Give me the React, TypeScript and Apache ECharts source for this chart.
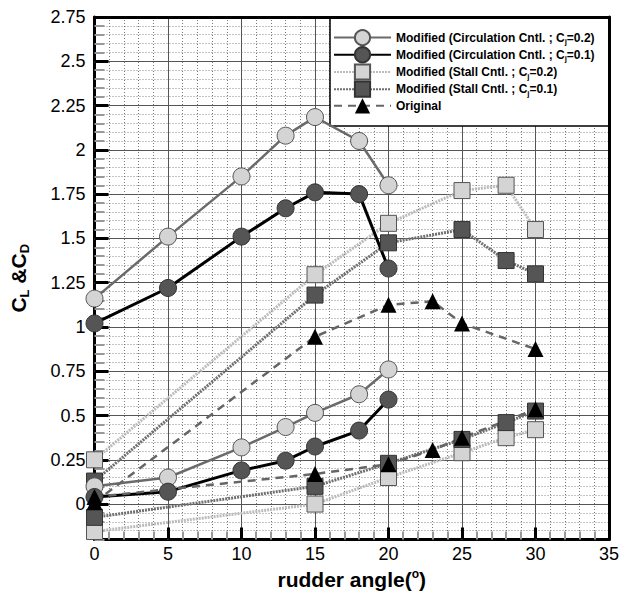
import React, { useEffect, useRef } from 'react';
import * as echarts from 'echarts';

// ---- data ----
const circAngles = [0, 5, 10, 13, 15, 18, 20];
const circCL02 = [1.16, 1.51, 1.85, 2.08, 2.185, 2.05, 1.80];
const circCL01 = [1.02, 1.22, 1.51, 1.67, 1.76, 1.75, 1.33];
const circCD02 = [0.10, 0.15, 0.32, 0.435, 0.515, 0.62, 0.76];
const circCD01 = [0.04, 0.07, 0.19, 0.245, 0.325, 0.415, 0.59];

const stallAngles = [0, 15, 20, 25, 28, 30];
const stallCL02 = [0.25, 1.295, 1.585, 1.77, 1.80, 1.55];
const stallCL01 = [0.13, 1.18, 1.475, 1.55, 1.375, 1.30];
const stallCD02 = [-0.155, 0.0, 0.15, 0.29, 0.375, 0.42];
const stallCD01 = [-0.075, 0.10, 0.23, 0.365, 0.46, 0.525];

const origAngles = [0, 15, 20, 23, 25, 30];
const origCL = [0.01, 0.945, 1.125, 1.145, 1.02, 0.875];
const origCD = [0.04, 0.17, 0.225, 0.305, 0.375, 0.535];

const yMajorTicks = [0, 0.25, 0.5, 0.75, 1, 1.25, 1.5, 1.75, 2, 2.25, 2.5, 2.75];

const seriesNames = [
  'Modified (Circulation Cntl. ; Cj=0.2)',
  'Modified (Circulation Cntl. ; Cj=0.1)',
  'Modified (Stall Cntl. ; Cj=0.2)',
  'Modified (Stall Cntl. ; Cj=0.1)',
  'Original',
];

const FONT = "'Liberation Sans', Arial, Helvetica, sans-serif";

function pairs(xs: number[], ys: number[]) {
  return xs.map((x, i) => [x, ys[i]]);
}

export default function App() {
  const ref = useRef<HTMLDivElement>(null);

  useEffect(() => {
    const chart = echarts.init(ref.current!, null, { renderer: 'svg' });

    const styles: any[] = [
      {
        symbol: 'circle', symbolSize: 17,
        lineStyle: { color: '#6a6a6a', width: 2.5 },
        itemStyle: { color: '#d4d4d4', borderColor: '#555', borderWidth: 1 },
      },
      {
        symbol: 'circle', symbolSize: 17,
        lineStyle: { color: '#000', width: 3 },
        itemStyle: { color: '#555', borderColor: '#333', borderWidth: 1 },
      },
      {
        symbol: 'rect', symbolSize: 16,
        lineStyle: { color: '#bcbcbc', width: 3, type: [2, 1] },
        itemStyle: { color: '#d4d4d4', borderColor: '#555', borderWidth: 1 },
      },
      {
        symbol: 'rect', symbolSize: 16,
        lineStyle: { color: '#707070', width: 3, type: [2, 1] },
        itemStyle: { color: '#555', borderColor: '#333', borderWidth: 1 },
      },
      {
        symbol: 'triangle', symbolSize: 16,
        lineStyle: { color: '#666', width: 2.5, type: [8, 6] },
        itemStyle: { color: '#000', borderColor: '#000', borderWidth: 0 },
      },
    ];

    const mk = (idx: number, xs: number[], ys: number[]) => ({
      type: 'line',
      name: seriesNames[idx],
      data: pairs(xs, ys),
      showSymbol: true,
      xAxisIndex: 0,
      yAxisIndex: 0,
      ...styles[idx],
    });

    const series = [
      mk(2, stallAngles, stallCL02),
      mk(2, stallAngles, stallCD02),
      mk(3, stallAngles, stallCL01),
      mk(3, stallAngles, stallCD01),
      mk(0, circAngles, circCL02),
      mk(0, circAngles, circCD02),
      mk(1, circAngles, circCL01),
      mk(1, circAngles, circCD01),
      mk(4, origAngles, origCL),
      mk(4, origAngles, origCD),
    ];

    const option: any = {
      animation: false,
      backgroundColor: '#fff',
      textStyle: { fontFamily: FONT },
      grid: { left: 93, right: 21, top: 17, bottom: 54, containLabel: false },
      legend: {
        data: seriesNames,
        orient: 'vertical',
        left: 330,
        top: 17,
        padding: [12, 0, 0, 3],
        itemWidth: 57,
        itemHeight: 19,
        itemGap: 0,
        z: 6,
        textStyle: { fontFamily: FONT, fontSize: 12, fontWeight: 'bold', color: '#000', lineHeight: 16,
          rich: { s: { fontSize: 8, fontWeight: 'bold', fontFamily: FONT, lineHeight: 8, verticalAlign: 'bottom' } } },
        formatter: (n: string) => n.replace('Cj', 'C{s|j}'),
        selectedMode: false,
      },
      graphic: [
        {
          type: 'rect', z: 3,
          shape: { x: 330, y: 17, width: 279, height: 109 },
          style: { fill: '#fff', stroke: '#000', lineWidth: 1.5 },
        },
      ],
      xAxis: [
        {
          type: 'value', min: 0, max: 35, interval: 1, position: 'bottom',
          axisLine: { show: true, onZero: false, lineStyle: { color: '#000', width: 3 } },
          axisTick: { show: true, inside: true, length: 8, lineStyle: { color: '#999', width: 2 } },
          axisLabel: { show: false },
          splitLine: { show: true, lineStyle: { color: '#777', width: 1, type: [1, 2] } },
          name: '{a|rudder angle(}{p|o}{a|)}',
          nameLocation: 'middle',
          nameGap: 28,
          nameTextStyle: {
            rich: {
              a: { fontFamily: FONT, fontSize: 21, fontWeight: 'bold', color: '#000', lineHeight: 24 },
              p: { fontFamily: FONT, fontSize: 12, fontWeight: 'bold', color: '#000', lineHeight: 12, verticalAlign: 'top' },
            },
          },
        },
        {
          type: 'value', min: 0, max: 35, interval: 5, position: 'bottom',
          axisLine: { show: false, onZero: false },
          axisTick: { show: true, inside: true, length: 12, lineStyle: { color: '#000', width: 3 } },
          axisLabel: { show: true, fontFamily: FONT, fontSize: 18, color: '#000', margin: 5 },
          splitLine: { show: true, lineStyle: { color: '#555', width: 1 } },
        },
        {
          type: 'value', min: 0, max: 35, position: 'top', z: 5,
          axisLine: { show: true, onZero: false, lineStyle: { color: '#000', width: 3 } },
          axisTick: { show: false }, axisLabel: { show: false }, splitLine: { show: false },
        },
      ],
      yAxis: [
        {
          type: 'value', min: -0.2, max: 2.75, interval: 0.05, position: 'left',
          axisLine: { show: true, onZero: false, lineStyle: { color: '#000', width: 3 } },
          axisTick: { show: true, inside: true, length: 10, lineStyle: { color: '#999', width: 2 } },
          axisLabel: {
            show: true, fontFamily: FONT, fontSize: 18, color: '#000', margin: 9,
            formatter: (v: number) => {
              const q = v / 0.25;
              if (Math.abs(q - Math.round(q)) > 1e-6 || v < -1e-9) return '';
              return String(Math.round(v * 100) / 100);
            },
          },
          splitLine: { show: true, lineStyle: { color: '#888', width: 1, type: [1, 2] } },
          name: '{a|C}{s|L}{a| &C}{s|D}',
          nameLocation: 'middle',
          nameRotate: 90,
          nameGap: 64,
          nameTextStyle: {
            rich: {
              a: { fontFamily: FONT, fontSize: 21, fontWeight: 'bold', color: '#000', lineHeight: 24 },
              s: { fontFamily: FONT, fontSize: 13, fontWeight: 'bold', color: '#000', lineHeight: 12, verticalAlign: 'bottom' },
            },
          },
        },
        {
          type: 'value', min: -0.2, max: 2.75, position: 'left',
          axisLine: { show: false, onZero: false },
          axisTick: { show: true, inside: true, length: 14, lineStyle: { color: '#000', width: 3 }, customValues: yMajorTicks },
          axisLabel: { show: false, customValues: yMajorTicks },
          splitLine: { show: true, lineStyle: { color: '#555', width: 1 } },
        },
        {
          type: 'value', min: -0.2, max: 2.75, position: 'right', z: 5,
          axisLine: { show: true, onZero: false, lineStyle: { color: '#000', width: 3 } },
          axisTick: { show: false }, axisLabel: { show: false }, splitLine: { show: false },
        },
      ],
      series,
    };

    chart.setOption(option);
    return () => chart.dispose();
  }, []);

  return (
    <div
      ref={ref}
      style={{ position: 'absolute', left: 0, top: 0, width: 630, height: 595 }}
    />
  );
}
